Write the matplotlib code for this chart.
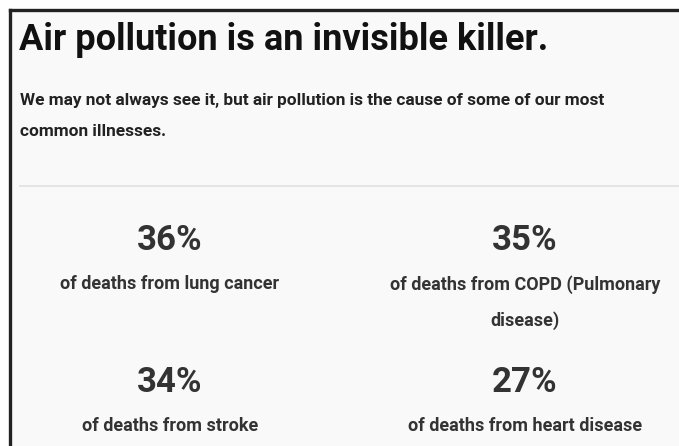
import matplotlib.pyplot as plt
from matplotlib.lines import Line2D
from matplotlib.patches import Rectangle

# Infographic content
title = "Air pollution is an invisible killer."
subtitle = ["We may not always see it, but air pollution is the cause of some of our most",
            "common illnesses."]
percents = [36, 35, 34, 27]
causes = ["of deaths from lung cancer",
          "of deaths from COPD (Pulmonary\ndisease)",
          "of deaths from stroke",
          "of deaths from heart disease"]

W, H = 679, 446
fig = plt.figure(figsize=(W / 100, H / 100), dpi=100)
fig.patch.set_facecolor("white")

def fx(px):
    return px / W

def fy(py):
    return 1 - py / H

# light card background with dark border on top and left
fig.patches.append(Rectangle((fx(10), 0), 1, fy(9.5), transform=fig.transFigure,
                             facecolor="#f9f9f9", edgecolor="none"))
fig.add_artist(Line2D([fx(9.5), 1], [fy(9.5), fy(9.5)], color="#222222", lw=2.4))
fig.add_artist(Line2D([fx(9.5), fx(9.5)], [0, fy(9.5)], color="#222222", lw=2.4))

# separator
fig.add_artist(Line2D([fx(20), 1], [fy(186), fy(186)], color="#e2e2e2", lw=1.3))

sans = ["Roboto", "DejaVu Sans"]

fig.text(fx(19), fy(40), title, fontsize=26, fontweight="bold", color="#111111",
         family=sans, va="center", ha="left")
fig.text(fx(20), fy(101), subtitle[0], fontsize=12.4, fontweight="bold", color="#222222",
         family=sans, va="center", ha="left")
fig.text(fx(20), fy(131), subtitle[1], fontsize=12.4, fontweight="bold", color="#222222",
         family=sans, va="center", ha="left")

col_x = [170, 525]
row_y = [241, 383]
for i, (p, c) in enumerate(zip(percents, causes)):
    x = col_x[i % 2]
    y = row_y[i // 2]
    fig.text(fx(x), fy(y), f"{p}%", fontsize=25, fontweight="bold", color="#333333",
             family=sans, ha="center", va="center")
    fig.text(fx(x), fy(y + 34), c, fontsize=13, fontweight="bold", color="#333333",
             family=sans, ha="center", va="top", linespacing=2.2)

fig.savefig("out.png", dpi=100)
